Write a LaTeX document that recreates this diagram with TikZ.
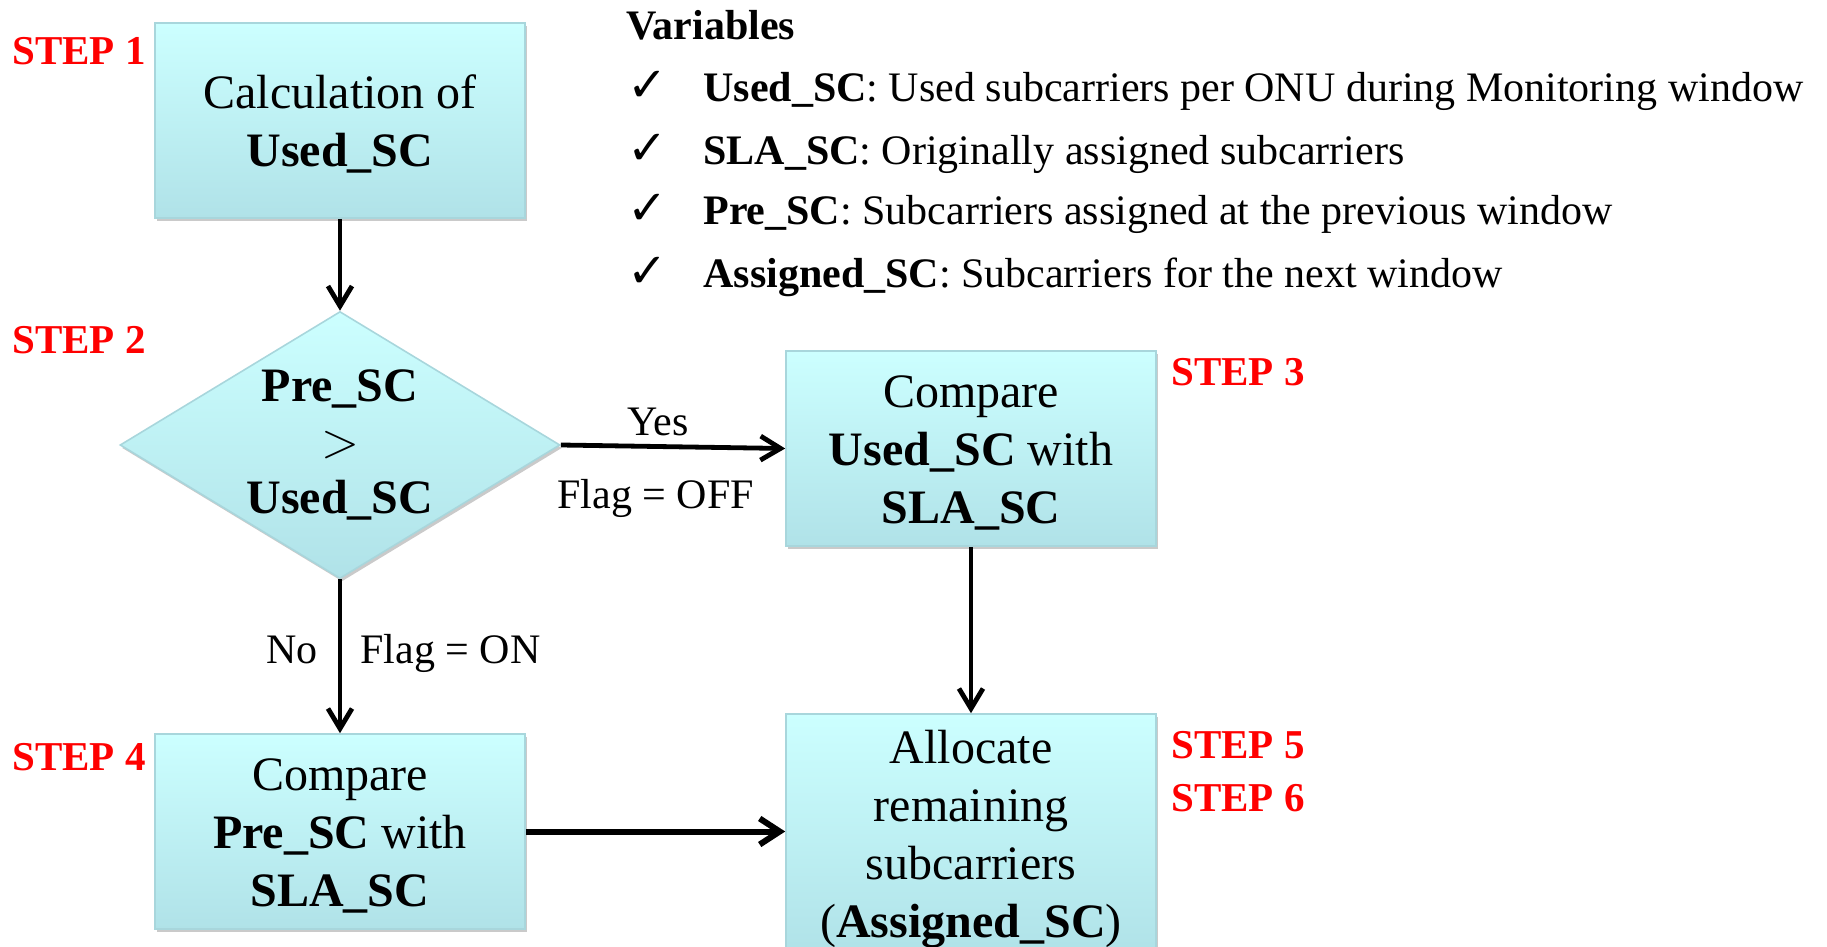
\documentclass[tikz,border=0pt]{standalone}
\usepackage{fontspec}
\setmainfont{Liberation Serif}
\newfontfamily\checkfont{DejaVu Sans}
\usetikzlibrary{arrows.meta,shapes.geometric,shadows}
\definecolor{boxtop}{RGB}{204,255,255}
\definecolor{boxbot}{RGB}{176,226,232}
\definecolor{boxline}{RGB}{168,214,220}
\definecolor{stepred}{RGB}{255,0,0}
\newcommand\boxlines[1]{\raisebox{-2.5pt}[\height][\depth]{\begin{tabular}{@{}c@{}}#1\end{tabular}}}
\begin{document}
\begin{tikzpicture}[x=0.5pt,y=-0.5pt,
  boxshade/.style={draw=boxline, line width=0.8pt, top color=boxtop, bottom color=boxbot,
    drop shadow={shadow xshift=1pt, shadow yshift=-1.5pt, opacity=0.35, fill=black!60}},
  flowbox/.style={boxshade, rectangle, minimum width=185pt, minimum height=97.5pt,
    inner sep=0pt, font=\fontsize{24}{29}\selectfont},
  decision/.style={boxshade, diamond, minimum width=220pt, minimum height=133.5pt, inner sep=0pt},
  bigtext/.style={align=center, inner sep=0pt, font=\fontsize{24}{28}\selectfont},
  steplabel/.style={anchor=base west, inner sep=0pt, text=stepred, font=\fontsize{20.5}{24}\selectfont\bfseries},
  lbl/.style={inner sep=0pt, font=\fontsize{21}{25}\selectfont},
  tick/.style={inner sep=0pt, anchor=base, font=\fontsize{24}{28}\selectfont\checkfont},
  flow/.style={line width=2.4pt, -{Straight Barb[length=10pt,width=12pt]}},
  flowthick/.style={line width=3pt, -{Straight Barb[length=10pt,width=13pt]}},
]
\path[use as bounding box, clip] (0,0) rectangle (1827,947);

% boxes
\node[flowbox] (s1) at (340,120.5) {\boxlines{Calculation of\\\textbf{Used\_SC}}};
\node[decision] (s2) at (340,445) {};
\node[bigtext] (s2t) at (340,445) {\textbf{Pre\_SC}\\$>$\\\textbf{Used\_SC}};
\node[flowbox] (s3) at (971,448.5) {\boxlines{Compare\\\textbf{Used\_SC} with\\\textbf{SLA\_SC}}};
\node[flowbox] (s4) at (340,831.5) {\boxlines{Compare\\\textbf{Pre\_SC} with\\\textbf{SLA\_SC}}};
\node[flowbox, minimum height=120pt] (s5) at (971,834) {\boxlines{Allocate\\remaining\\subcarriers\\(\textbf{Assigned\_SC})}};

% step labels
\node[steplabel] (st1) at (12,65) {STEP 1};
\node[steplabel] (st2) at (12,353) {STEP 2};
\node[steplabel] (st3) at (1171,385) {STEP 3};
\node[steplabel] (st4) at (12,770) {STEP 4};
\node[steplabel] (st5) at (1171,758) {STEP 5};
\node[steplabel] (st6) at (1171,811) {STEP 6};

% variables
\node[lbl, anchor=base west, font=\fontsize{21}{25}\selectfont\bfseries] (var) at (626,40) {Variables};
\node[tick] (c1) at (648,102) {✓};
\node[tick] (c2) at (648,164) {✓};
\node[tick] (c3) at (648,225) {✓};
\node[tick] (c4) at (648,287) {✓};
\node[lbl, anchor=base west] (v1) at (703,102) {\textbf{Used\_SC}: Used subcarriers per ONU during Monitoring window};
\node[lbl, anchor=base west] (v2) at (703,164) {\textbf{SLA\_SC}: Originally assigned subcarriers};
\node[lbl, anchor=base west] (v3) at (703,225) {\textbf{Pre\_SC}: Subcarriers assigned at the previous window};
\node[lbl, anchor=base west] (v4) at (703,287) {\textbf{Assigned\_SC}: Subcarriers for the next window};

% connectors
\draw[flow] (s1.south) -- (s2.north);
\draw[flow] (s2.east) -- (s3.west);
\draw[flow] (s2.south) -- (s4.north);
\draw[flow] (s3.south) -- (s5.north);
\draw[flowthick] (s4.east) -- (s4.east -| s5.west);

% connector labels
\node[lbl, anchor=base] (yes) at (658,435) {Yes};
\node[lbl, anchor=base west] (foff) at (557,508) {Flag = OFF};
\node[lbl, anchor=base west] (no) at (266,663) {No};
\node[lbl, anchor=base west] (fon) at (360,663) {Flag = ON};
\end{tikzpicture}
\end{document}
